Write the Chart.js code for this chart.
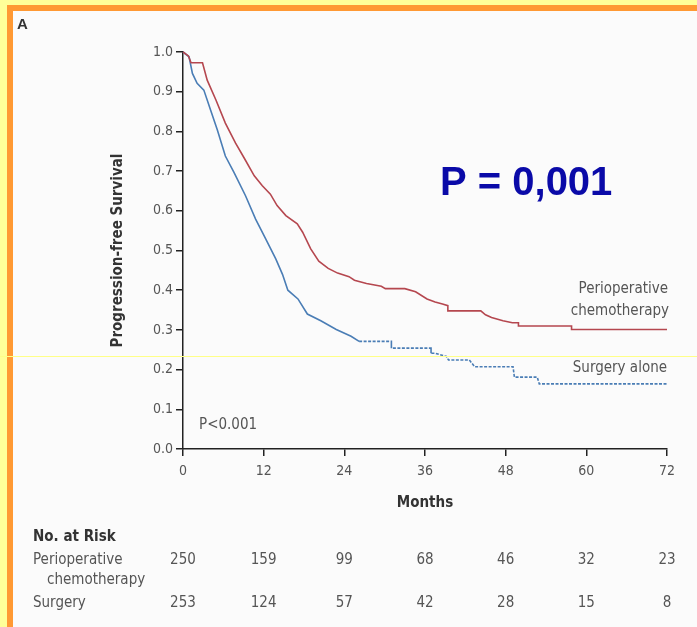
<!DOCTYPE html>
<html>
<head>
<meta charset="utf-8">
<script src="https://cdn.jsdelivr.net/npm/chart.js@4.4.1/dist/chart.umd.min.js"></script>
<style>
    html, body { margin: 0; padding: 0; }
    body { width: 697px; height: 627px; background: #ffff99; position: relative; overflow: hidden; }
    #frame { position: absolute; left: 7px; top: 5px; right: 0; bottom: 0; background: #fbfbfb;
             border-left: 6px solid #ff9933; border-top: 6px solid #ff9933; }
    #wrap { position: absolute; left: 0; top: 0; width: 697px; height: 627px; }
    #slideLine { position: absolute; left: 0; top: 356px; width: 697px; height: 1px; background: #ffff88; }
</style>
</head>
<body>
<div id="frame"></div>
<div id="wrap"><canvas id="chartId" width="697" height="627"></canvas></div>
<div id="slideLine"></div>
<script>
// Kaplan-Meier curves (months, survival)
const chemoMonths = [0, 0.8, 1.2, 2.9, 3.6, 4.9, 6.3, 7.8, 9.1, 10.6, 11.8, 13.0, 14.0, 15.3, 17.0, 17.8, 19.0, 20.2, 21.6,
    23.0, 24.7, 25.5, 27.3, 29.5, 30.1, 33.0, 34.6, 36.3, 37.5, 38.6, 39.4, 39.4, 44.3, 45.0, 45.9, 47.6, 49.0, 49.9, 49.9,
    57.8, 57.8, 72];
const chemoSurvival = [1.0, 0.99, 0.973, 0.973, 0.929, 0.879, 0.821, 0.771, 0.733, 0.688, 0.663, 0.642, 0.613, 0.588, 0.567,
    0.546, 0.504, 0.473, 0.455, 0.443, 0.434, 0.425, 0.417, 0.41, 0.404, 0.404, 0.396, 0.378, 0.37, 0.365, 0.361, 0.348,
    0.348, 0.338, 0.331, 0.323, 0.318, 0.318, 0.31, 0.31, 0.301, 0.301];

const surgeryMonths = [0, 0.9, 1.4, 2.1, 3.1, 4.1, 5.1, 6.3, 7.6, 9.3, 10.8, 12.3, 13.8, 14.8, 15.6, 17.1, 18.5, 20.5, 22.8,
    25.0, 26.2, 31.0, 31.0, 36.9, 36.9, 37.5, 39.2, 39.5, 42.6, 43.4, 49.1, 49.3, 52.7, 53.0, 72];
const surgerySurvival = [1.0, 0.988, 0.946, 0.921, 0.904, 0.854, 0.804, 0.738, 0.696, 0.638, 0.579, 0.529, 0.479, 0.44,
    0.40, 0.378, 0.34, 0.323, 0.301, 0.284, 0.271, 0.271, 0.254, 0.254, 0.241, 0.241, 0.233, 0.224, 0.224, 0.207, 0.207,
    0.181, 0.181, 0.164, 0.164];

// Month from which the surgery curve is drawn dashed
const surgeryDashFrom = 26;

// Number at risk table
const riskMonths = [0, 12, 24, 36, 48, 60, 72];
const riskChemo = [250, 159, 99, 68, 46, 32, 23];
const riskSurgery = [253, 124, 57, 42, 28, 15, 8];

const textFont = "'Liberation Sans Narrow', 'DejaVu Sans Condensed', 'Liberation Sans', sans-serif";
const textColor = '#555';

// Build {x, y} points for the library
function toPoints(months, values) {
    return months.map((m, i) => ({ x: m, y: values[i] }));
}

// Extra texts: panel letter, curve labels, p-values and the risk table
const textPlugin = {
    id: 'textPlugin',
    afterDraw(chart) {
        const ctx = chart.ctx;
        const xScale = chart.scales.x;
        const yScale = chart.scales.y;
        ctx.save();

        // Panel letter
        ctx.fillStyle = '#333';
        ctx.font = "bold 15px 'Liberation Sans', sans-serif";
        ctx.textAlign = 'left';
        ctx.textBaseline = 'middle';
        ctx.fillText('A', 17, 25);

        // Curve labels
        ctx.font = '15px ' + textFont;
        ctx.fillStyle = textColor;
        ctx.textAlign = 'right';
        ctx.fillText('Perioperative', xScale.right + 1, 289);
        ctx.fillText('chemotherapy', xScale.right + 2, 311);
        ctx.fillText('Surgery alone', xScale.right, 368);

        // P value inside the plot
        ctx.textAlign = 'left';
        ctx.font = '15px ' + textFont;
        ctx.fillText('P<0.001', 199, yScale.getPixelForValue(0.06));

        // Big blue P value
        ctx.font = "bold 40px 'Liberation Sans', Arial, sans-serif";
        ctx.fillStyle = '#0a0aa8';
        ctx.textAlign = 'left';
        ctx.fillText('P = 0,001', 440, 184);

        // Number at risk
        ctx.fillStyle = '#333';
        ctx.font = 'bold 15px ' + textFont;
        ctx.fillText('No. at Risk', 33, 537);
        ctx.fillStyle = textColor;
        ctx.font = '15px ' + textFont;
        ctx.fillText('Perioperative', 33, 560);
        ctx.fillText('chemotherapy', 47, 580);
        ctx.fillText('Surgery', 33, 603);

        ctx.textAlign = 'center';
        riskMonths.forEach((m, i) => {
            const x = xScale.getPixelForValue(m);
            ctx.fillText(String(riskChemo[i]), x, 560);
            ctx.fillText(String(riskSurgery[i]), x, 603);
        });
        ctx.restore();
    }
};

let canvasElement = document.getElementById('chartId').getContext('2d');

const chart = new Chart(canvasElement, {
    type: 'line',
    data: {
        datasets: [
            {
                label: 'Perioperative chemotherapy',
                data: toPoints(chemoMonths, chemoSurvival),
                borderColor: '#b5474f',
                borderWidth: 1.6,
                pointRadius: 0,
                tension: 0,
                clip: 4
            },
            {
                label: 'Surgery alone',
                data: toPoints(surgeryMonths, surgerySurvival),
                borderColor: '#4a7db5',
                borderWidth: 1.6,
                pointRadius: 0,
                tension: 0,
                clip: 4,
                segment: {
                    borderDash: ctx => ctx.p0.parsed.x >= surgeryDashFrom ? [3, 1.5] : undefined
                }
            }
        ]
    },
    options: {
        responsive: false,
        devicePixelRatio: 1,
        animation: false,
        layout: {
            padding: { left: 109, top: 52, right: 30, bottom: 115 }
        },
        plugins: {
            legend: { display: false },
            tooltip: { enabled: false }
        },
        scales: {
            x: {
                type: 'linear',
                min: 0,
                max: 72,
                ticks: {
                    stepSize: 12,
                    color: textColor,
                    padding: 7,
                    maxRotation: 0,
                    font: { family: textFont, size: 14 }
                },
                grid: { drawOnChartArea: false, drawTicks: true, tickLength: 7, color: '#222', lineWidth: 1.5 },
                border: { color: '#222', width: 1.5 },
                title: {
                    display: true,
                    text: 'Months',
                    color: '#333',
                    padding: 0,
                    font: { family: textFont, size: 15, weight: 'bold' }
                },
                afterFit: scale => { scale.height = 63; }
            },
            y: {
                min: 0,
                max: 1,
                ticks: {
                    stepSize: 0.1,
                    color: textColor,
                    padding: 3,
                    font: { family: textFont, size: 14 },
                    callback: value => value.toFixed(1)
                },
                grid: { drawOnChartArea: false, drawTicks: true, tickLength: 7, color: '#222', lineWidth: 1.5 },
                border: { color: '#222', width: 1.5 },
                title: {
                    display: true,
                    text: 'Progression-free Survival',
                    color: '#333',
                    padding: 0,
                    font: { family: textFont, size: 15, weight: 'bold' }
                },
                afterFit: scale => { scale.width = 74; }
            }
        }
    },
    plugins: [textPlugin]
});
</script>
</body>
</html>
